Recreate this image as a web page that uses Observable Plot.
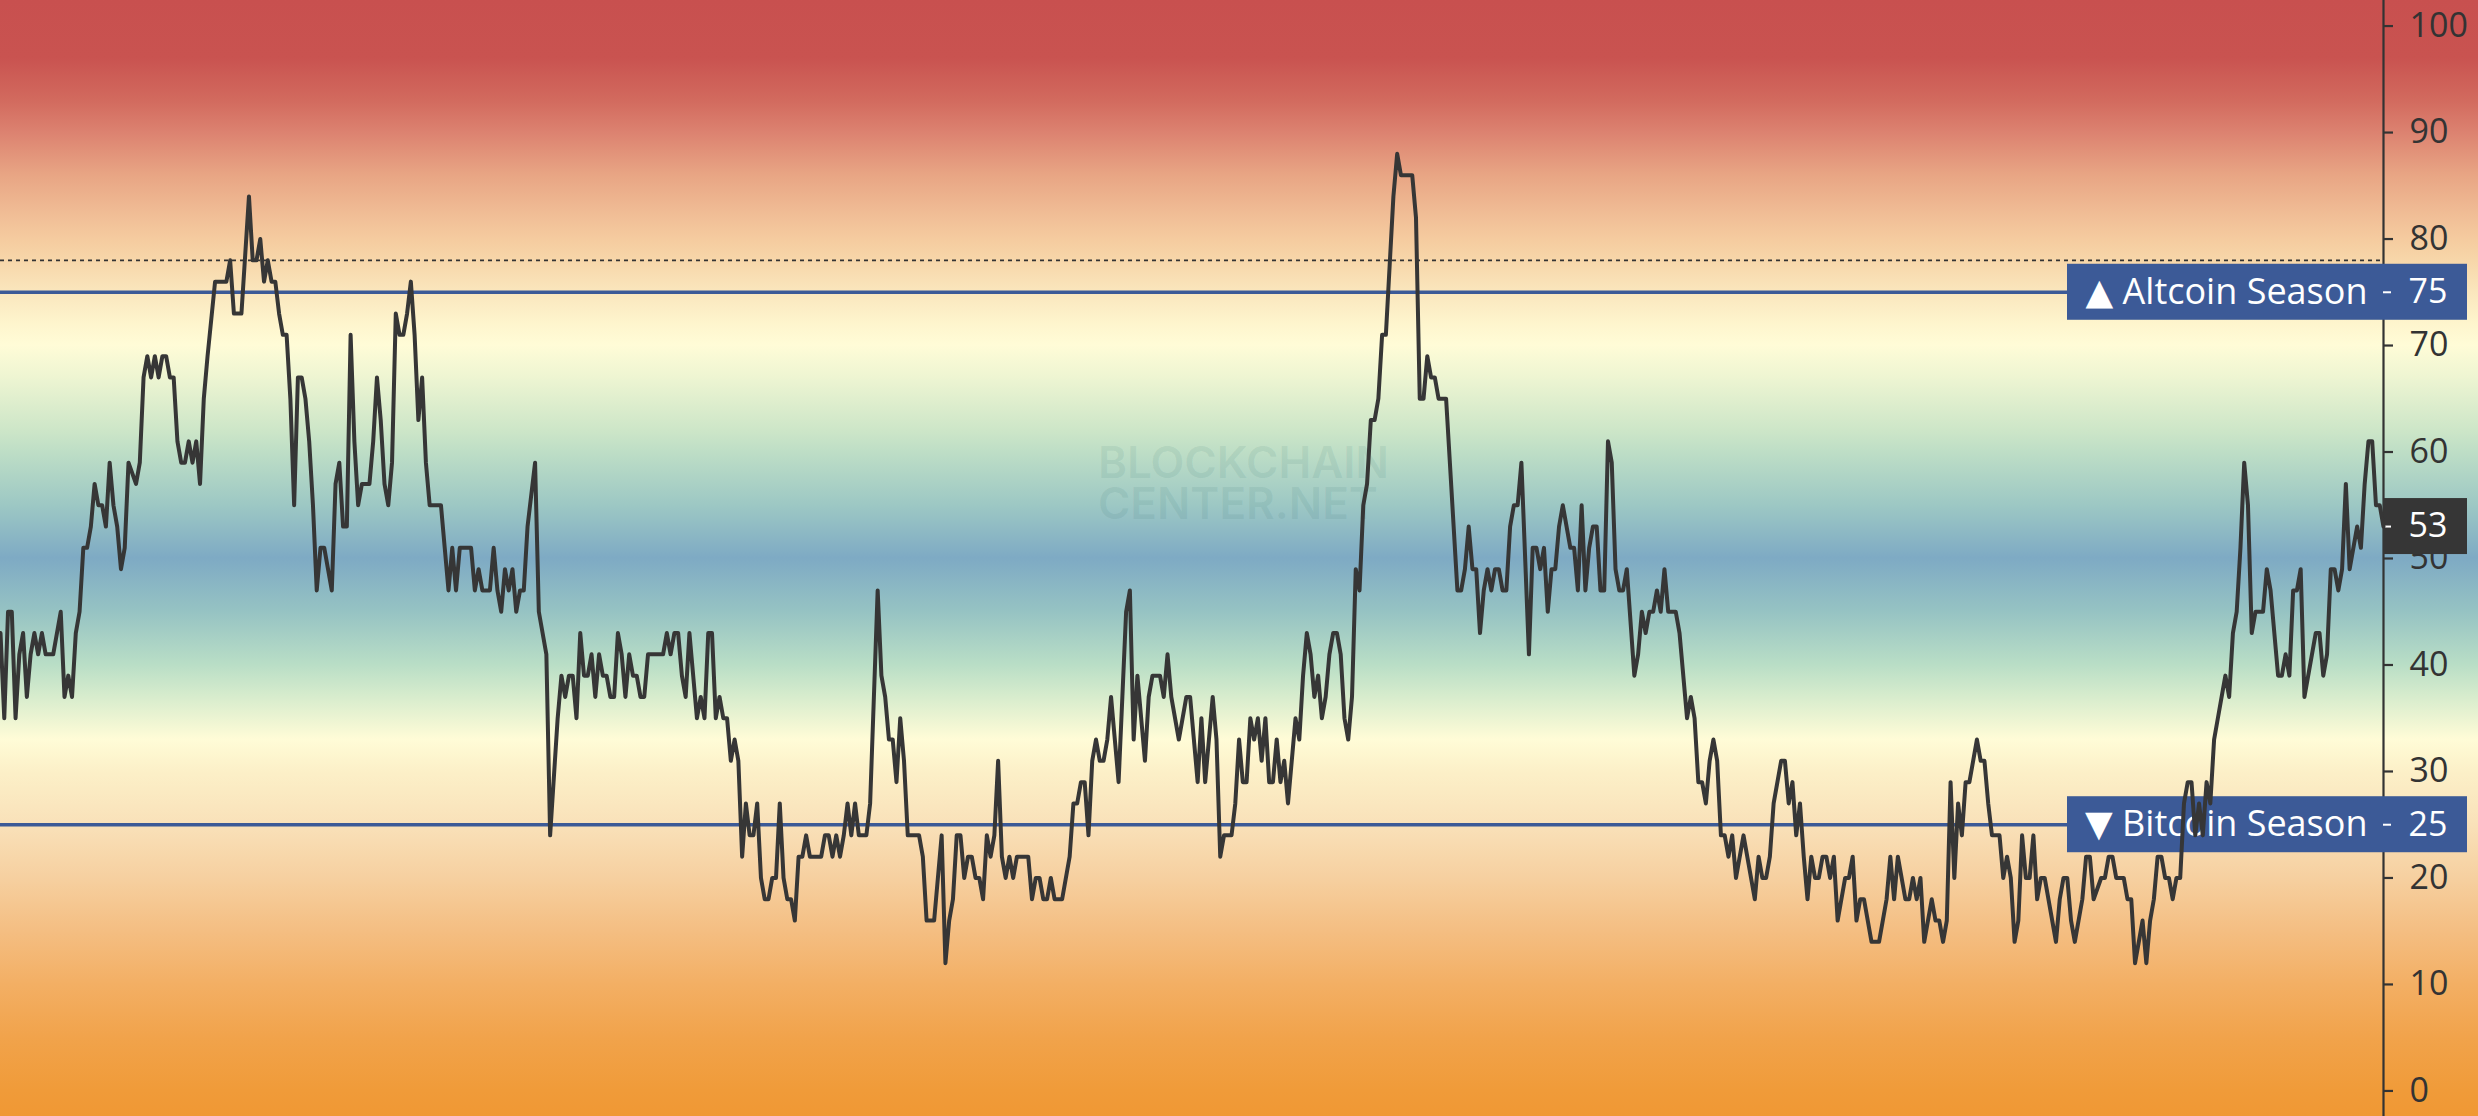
<!DOCTYPE html>
<html>
<head>
<meta charset="utf-8">
<script src="https://cdn.jsdelivr.net/npm/d3@7"></script>
<script src="https://cdn.jsdelivr.net/npm/@observablehq/plot@0.6"></script>
<style>
  html, body { margin: 0; padding: 0; background: #ffffff; overflow: hidden; }
  #chart svg { display: block; }
</style>
</head>
<body>
<div id="chart"></div>
<script>
// ---------------- DATA ----------------
// Altcoin Season Index, one entry per day (day 0 .. 633); null = day not read
const altcoinIndex = [
  43,35,45,45,35,41,43,37,41,43,      // 0
  41,43,41,null,41,null,45,37,39,37,  // 10
  43,45,51,51,53,57,55,55,53,59,      // 20
  55,53,49,51,59,null,57,59,67,69,    // 30
  67,69,67,69,69,67,67,61,59,59,      // 40
  61,59,61,57,65,69,null,76,null,null,// 50
  76,78,73,null,73,null,84,78,78,80,  // 60
  76,78,76,76,73,71,71,65,55,67,      // 70
  67,65,61,55,47,51,51,49,47,57,      // 80
  59,53,53,71,61,55,57,null,57,61,    // 90
  67,63,57,55,59,73,71,71,73,76,      // 100
  71,63,67,59,55,null,null,55,51,47,  // 110
  51,47,51,null,null,51,47,49,47,null,// 120
  47,51,47,45,49,47,49,45,47,47,      // 130
  53,null,59,45,null,41,24,null,35,39,// 140
  37,39,39,35,43,39,39,41,37,41,      // 150
  39,39,37,37,43,41,37,41,39,39,      // 160
  37,37,41,null,null,null,41,43,41,43,// 170
  43,39,37,43,39,35,37,35,43,43,      // 180
  35,37,35,35,31,33,31,22,27,24,      // 190
  24,27,20,18,18,20,20,27,20,18,      // 200
  18,16,22,22,24,22,null,null,22,24,  // 210
  24,22,24,22,24,27,24,27,24,null,    // 220
  24,27,null,47,39,37,33,33,29,35,    // 230
  31,24,null,null,24,22,16,null,16,null, // 240
  24,12,16,18,24,24,20,22,22,20,      // 250
  20,18,24,22,24,31,22,20,22,20,      // 260
  22,null,null,22,18,20,20,18,18,20,  // 270
  18,null,18,null,22,27,27,29,29,24,  // 280
  31,33,31,31,33,37,null,29,37,45,    // 290
  47,33,39,null,31,37,39,null,39,37,  // 300
  41,37,null,33,null,37,37,null,29,35,// 310
  29,null,37,33,22,24,null,24,27,33,  // 320
  29,29,35,33,35,31,35,29,29,33,      // 330
  29,31,27,31,35,33,39,43,41,37,      // 340
  39,35,37,41,43,43,41,35,33,37,      // 350
  49,47,55,57,63,63,65,71,71,null,    // 360
  84,88,86,null,null,86,82,65,65,69,  // 370
  67,67,65,null,65,null,null,47,47,49,// 380
  53,49,49,43,47,49,47,49,49,47,      // 390
  47,53,55,55,59,null,41,51,51,49,    // 400
  51,45,49,49,53,55,53,51,51,47,      // 410
  55,47,51,53,53,47,47,61,59,49,      // 420
  47,47,49,null,39,41,45,43,45,45,    // 430
  47,45,49,45,null,45,43,null,35,37,  // 440
  35,29,29,27,31,33,31,24,24,22,      // 450
  24,20,null,24,null,null,18,22,20,20,// 460
  22,27,null,31,31,27,29,24,27,22,    // 470
  18,22,20,20,22,22,20,22,16,18,      // 480
  20,20,22,16,18,18,null,14,null,14,  // 490
  null,18,22,18,22,null,18,18,20,18,  // 500
  20,14,null,18,16,16,14,16,29,20,    // 510
  27,24,29,29,null,33,31,31,27,24,    // 520
  null,24,20,22,20,14,16,24,20,20,    // 530
  24,18,20,20,null,null,14,18,20,20,  // 540
  16,14,null,18,22,22,18,null,20,20,  // 550
  22,22,20,null,20,18,18,12,null,16,  // 560
  12,16,18,22,22,20,20,18,20,20,      // 570
  27,29,29,24,27,24,29,27,33,35,      // 580
  37,39,37,43,45,51,59,55,43,45,      // 590
  null,45,49,47,null,39,39,41,39,47,  // 600
  47,49,37,null,null,43,43,39,41,49,  // 610
  49,47,49,57,49,51,53,51,57,61,      // 620
  61,55,55,53                         // 630
];
const seasonLevels = [75, 25];
const seasonLabels = ["\u25B2 Altcoin Season", "\u25BC Bitcoin Season"];
const currentValue = 53;
const previousHigh = 78;
const yTicks = [0, 10, 20, 30, 40, 50, 60, 70, 80, 90, 100];
const watermark = ["BLOCKCHAIN\nCENTER.NET"];

// ---------------- STYLE ----------------
const W = 2478, H = 1116;
const marginRight = 95;
const yMin = -2.4, yMax = 102.4;
const BLUE = "#3c5a97", DARK = "#363636", INK = "#363636", AXIS = "#333333";
const bgStopValues = [102.4, 97, 93, 90, 86, 82, 80, 78, 75, 72, 70, 67, 62, 60, 55, 50, 45, 40, 37, 33, 30, 25, 20, 15, 10, 5, 0, -2.4];
const bgStopColors = ["#c8504f", "#c95350", "#d26a5e", "#dc8270", "#e8a584", "#f1bf97", "#f5cb9f", "#f7d6a9", "#fae6bd", "#fef5cd", "#fffcd7", "#eef5d2", "#cde6c8", "#bedec6", "#9dc8c4", "#7eaac4", "#96c3c3", "#b9dec6", "#d7eccd", "#fffcd7", "#fcf0c8", "#f9e1b9", "#f6d0a0", "#f4be82", "#f3af64", "#f1a34b", "#f09b39", "#f09834"];
const boxHalf = 28 * (yMax - yMin) / H;   // 56px tall label boxes

// ---------------- BUILD ----------------
const series = altcoinIndex
  .map((v, d) => ({day: d, value: v}))
  .filter(d => d.value != null);
const lastDay = altcoinIndex.length - 1;

const plot = Plot.plot({
  width: W,
  height: H,
  marginLeft: 0,
  marginRight: marginRight,
  marginTop: 0,
  marginBottom: 0,
  style: {background: "none", fontFamily: "'Open Sans', 'DejaVu Sans', sans-serif", fontSize: "34px"},
  x: {domain: [0, lastDay], axis: null},
  y: {domain: [yMin, yMax]},
  marks: [
    // gradient background (also behind the axis area)
    Plot.rect([0], {x1: 0, x2: lastDay, y1: yMin, y2: yMax, insetRight: -marginRight, fill: "url(#bgGrad)"}),
    // watermark
    Plot.text(watermark, {
      x: 291.5, y: 56.9, text: d => d, textAnchor: "start", lineAnchor: "middle",
      lineHeight: 0.95, fontSize: 44, fontWeight: 600, fontFamily: "Inter, 'Open Sans', sans-serif",
      fill: "#2d6b6b", fillOpacity: 0.1
    }),
    // dotted reference line
    Plot.ruleY([previousHigh], {x1: 0, x2: lastDay, stroke: AXIS, strokeWidth: 1.7, strokeDasharray: "4,4"}),
    // season thresholds
    Plot.ruleY(seasonLevels, {x1: 0, x2: lastDay, stroke: BLUE, strokeWidth: 3.6}),
    // right axis line
    Plot.ruleX([lastDay], {stroke: AXIS, strokeWidth: 2.2}),
    Plot.axisY(yTicks, {anchor: "right", tickSize: 9, tickPadding: 17, fontSize: 34, color: AXIS, strokeWidth: 2.2, label: null}),
    // label boxes
    Plot.rect(seasonLevels, {x1: lastDay, x2: lastDay, y1: d => d - boxHalf, y2: d => d + boxHalf, insetLeft: -316, insetRight: -84, fill: BLUE}),
    Plot.rect([currentValue], {x1: lastDay, x2: lastDay, y1: d => d - boxHalf, y2: d => d + boxHalf, insetRight: -84, fill: DARK}),
    Plot.text(seasonLevels, {x: lastDay, y: d => d, text: (d, i) => seasonLabels[i], textAnchor: "end", dx: -16, fill: "white", fontSize: 36}),
    Plot.text([...seasonLevels, currentValue], {x: lastDay, y: d => d, text: d => String(d), textAnchor: "start", dx: 25, fill: "white", fontSize: 34}),
    Plot.ruleY([...seasonLevels, currentValue], {x1: lastDay, x2: lastDay, insetRight: -8, stroke: "white", strokeWidth: 2}),
    // the index line
    Plot.line(series, {x: "day", y: "value", stroke: INK, strokeWidth: 4, strokeLinejoin: "round", strokeLinecap: "round"})
  ]
});

// gradient definition, stops placed with the plot's own y scale
const yScale = plot.scale("y");
const grad = d3.select(plot).insert("defs", ":first-child")
  .append("linearGradient")
  .attr("id", "bgGrad")
  .attr("gradientUnits", "userSpaceOnUse")
  .attr("x1", 0).attr("x2", 0).attr("y1", 0).attr("y2", H);
bgStopValues.forEach((v, i) => {
  grad.append("stop")
    .attr("offset", Math.max(0, Math.min(1, yScale.apply(v) / H)))
    .attr("stop-color", bgStopColors[i]);
});

document.getElementById("chart").appendChild(plot);
</script>
</body>
</html>
